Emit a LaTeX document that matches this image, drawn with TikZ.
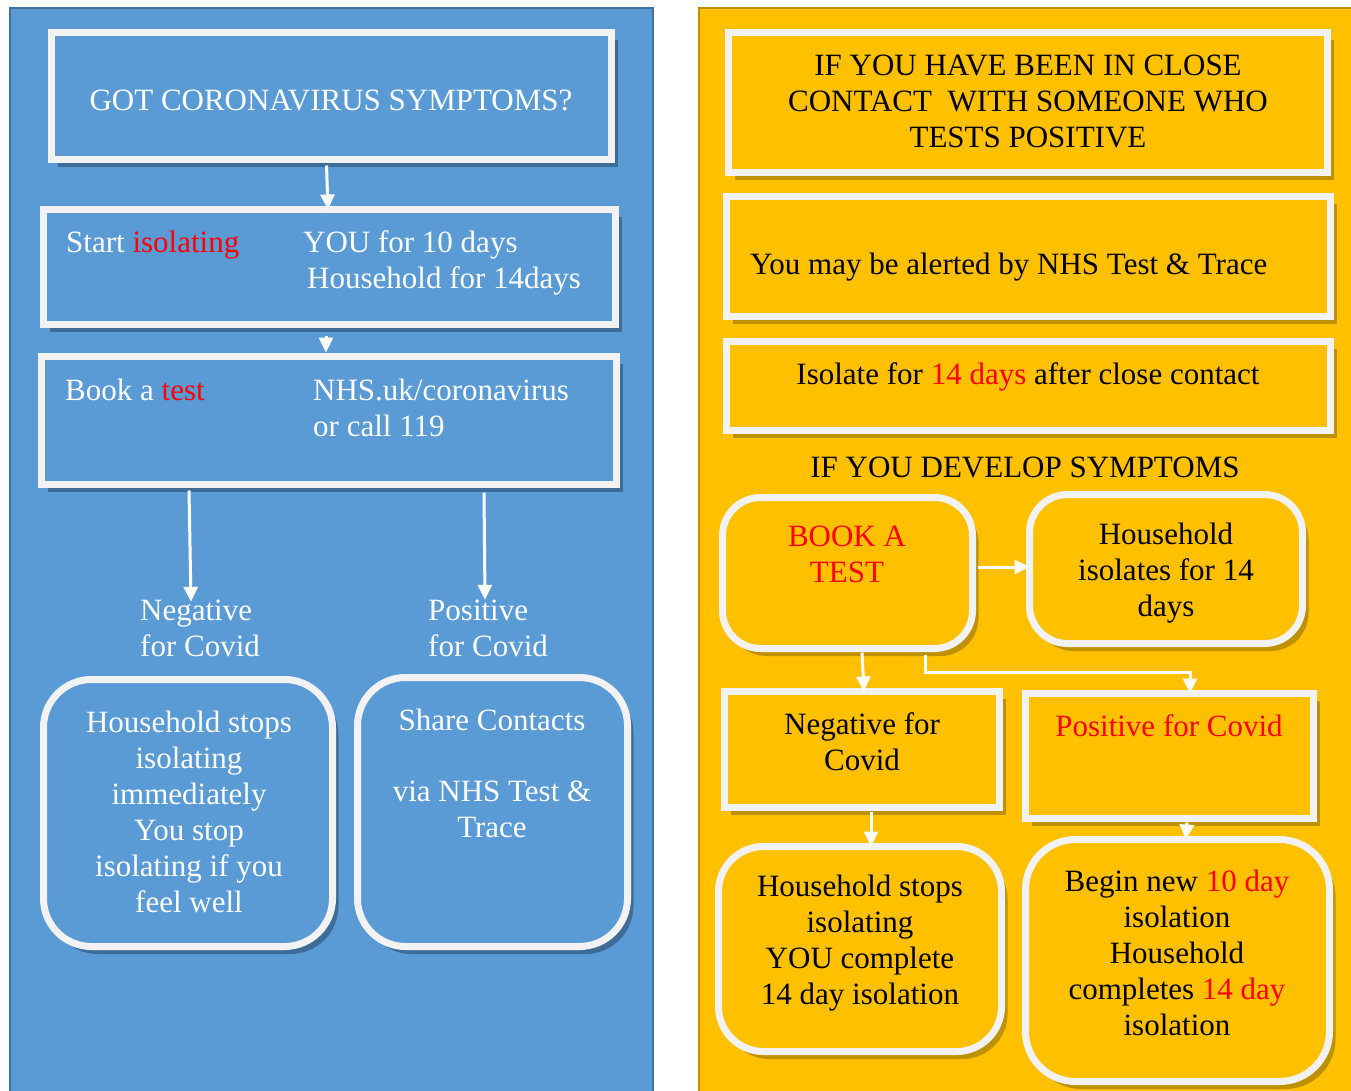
\documentclass[tikz,border=0pt]{standalone}
\usepackage{fontspec}
\setmainfont{Liberation Serif}
\usetikzlibrary{shadows,arrows.meta,calc}
\definecolor{pblue}{HTML}{5B9BD5}
\definecolor{pblueedge}{HTML}{41719C}
\definecolor{pblueshadow}{HTML}{3E6C99}
\definecolor{pyellow}{HTML}{FFC000}
\definecolor{pyellowedge}{HTML}{BF9000}
\definecolor{pyellowshadow}{HTML}{BF9000}
\definecolor{bwhite}{HTML}{F2F2F2}
\definecolor{hred}{HTML}{FF0000}
\newcommand\hl[1]{\textcolor{hred}{#1}}
\newcommand\txtsize{\fontsize{31}{36}\selectfont}
\begin{document}
\begin{tikzpicture}[x=1pt,y=-1pt,
  boxbase/.style={draw=bwhite, line width=7pt, inner sep=0pt, outer sep=0pt},
  bluebox/.style={boxbase, fill=pblue, drop shadow={shadow xshift=6pt, shadow yshift=-7.5pt, fill=pblueshadow, opacity=1}},
  yellowbox/.style={boxbase, fill=pyellow, drop shadow={shadow xshift=6pt, shadow yshift=-7.5pt, fill=pyellowshadow, opacity=1}},
  txt/.style={font=\txtsize, inner sep=0pt, anchor=north},
  wtxt/.style={txt, text=white},
  ktxt/.style={txt, text=black},
  arr/.style={draw=white, line width=3pt, -{Triangle[width=14pt,length=15pt]}},
]
\useasboundingbox (0,0) rectangle (1351,1090);
\fill[white] (0,0) rectangle (1351,1090);
\path[fill=pblue, draw=pblueedge, line width=2pt] (10,8) rectangle (653,1100);
\path[fill=pyellow, draw=pyellowedge, line width=2pt] (699,8) rectangle (1365,1100);

% ---------- left panel boxes ----------
\node[bluebox, minimum width=560pt, minimum height=127pt] (got) at (331.5,96) {};
\node[bluebox, minimum width=572pt, minimum height=115pt] (iso) at (329.5,267) {};
\node[bluebox, minimum width=575pt, minimum height=128pt] (book) at (329,420.5) {};
\node[bluebox, rounded corners=48pt, minimum width=289pt, minimum height=267pt] (negL) at (188,813) {};
\node[bluebox, rounded corners=48pt, minimum width=270pt, minimum height=269pt] (posL) at (492.5,812) {};

\node[wtxt] (tgot) at (331,84.8) {\strut GOT CORONAVIRUS SYMPTOMS?};
\node[wtxt, anchor=north west] (tstart) at (66,226.8) {\strut Start \hl{isolating}};
\node[wtxt, anchor=north west, align=left] (tyou) at (303,226.8) {\strut YOU for 10 days\\\hspace*{4pt}Household for 14days};
\node[wtxt, anchor=north west] (tbook) at (65,374.8) {\strut Book a \hl{test}};
\node[wtxt, anchor=north west, align=left] (tnhs) at (313,374.8) {\strut NHS.uk/coronavirus\\or call 119};
\node[wtxt, anchor=north west, align=left] (negLbl) at (140,594.8) {\strut Negative\\for Covid};
\node[wtxt, anchor=north west, align=left] (posLbl) at (428,594.8) {\strut Positive\\for Covid};
\node[wtxt, align=center] (tnegL) at (189,706.8) {\strut Household stops\\isolating\\immediately\\You stop\\isolating if you\\feel well};
\node[wtxt, align=center] (tposL) at (492,704.8) {\strut Share Contacts\\[35.5pt]via NHS Test \&\\Trace};

\draw[arr] ($([xshift=-5pt]got.south)+(0,6)$) -- ([xshift=-1.5pt]iso.north);
\draw[arr] ($([xshift=-3.5pt]iso.south)+(0,11)$) -- ($([xshift=-3pt]book.north)+(0,-4)$);
\draw[arr] ($(book.south -| 189,0)+(0,6)$) -- ($(negLbl.north -| 191,0)+(0,7)$);
\draw[arr] ($(book.south -| 484,0)+(0,8)$) -- ($(posLbl.north -| 485,0)+(0,5)$);

% ---------- right panel boxes ----------
\node[yellowbox, minimum width=599pt, minimum height=140pt] (r1) at (1028,102.5) {};
\node[yellowbox, minimum width=604pt, minimum height=120pt] (r2) at (1028.5,256.5) {};
\node[yellowbox, minimum width=604pt, minimum height=89pt] (r3) at (1028.5,386) {};
\node[yellowbox, rounded corners=38pt, minimum width=250pt, minimum height=151pt] (bookR) at (847.5,573) {};
\node[yellowbox, rounded corners=38pt, minimum width=273pt, minimum height=149pt] (hh) at (1166,569) {};
\node[yellowbox, minimum width=275pt, minimum height=116pt] (negR) at (862,749.5) {};
\node[yellowbox, minimum width=288pt, minimum height=125pt] (posR) at (1169.5,756) {};
\node[yellowbox, rounded corners=45pt, minimum width=283pt, minimum height=205pt] (stopR) at (860,949) {};
\node[yellowbox, rounded corners=50pt, minimum width=304pt, minimum height=242pt] (newR) at (1177.5,960.5) {};

\node[ktxt, align=center] (tr1) at (1028,49.8) {\strut IF YOU HAVE BEEN IN CLOSE\\CONTACT\ \ WITH SOMEONE WHO\\TESTS POSITIVE};
\node[ktxt, anchor=north west] (tr2) at (750,248.8) {\strut You may be alerted by NHS Test \& Trace};
\node[ktxt] (tr3) at (1028,358.8) {\strut Isolate for \hl{14 days} after close contact};
\node[ktxt] (tdev) at (1025,451.8) {\strut IF YOU DEVELOP SYMPTOMS};
\node[ktxt, align=center, text=hred] (tbookR) at (847,520.8) {\strut BOOK A\\TEST};
\node[ktxt, align=center] (thh) at (1166,518.8) {\strut Household\\isolates for 14\\days};
\node[ktxt, align=center] (tnegR) at (862,708.8) {\strut Negative for\\Covid};
\node[ktxt, text=hred] (tposR) at (1169,710.8) {\strut Positive for Covid};
\node[ktxt, align=center] (tstopR) at (860,870.8) {\strut Household stops\\isolating\\YOU complete\\14 day isolation};
\node[ktxt, align=center] (tnewR) at (1177,865.8) {\strut Begin new \hl{10 day}\\isolation\\Household\\completes \hl{14 day}\\isolation};

\draw[arr] ($(bookR.east |- 0,567)+(5,0)$) -- (hh.west |- 0,567);
\draw[arr] ($(bookR.south -| 862,0)+(0,4)$) -- (negR.north -| 864,0);
\draw[arr] ($(bookR.south -| 925,0)+(0,6)$) |- ($(posR.north -| 1190,0)+(0,-21)$) -- (posR.north -| 1190,0);
\draw[arr] ($(negR.south -| 871,0)+(0,4)$) -- (stopR.north -| 871,0);
\draw[arr] ($(posR.south -| 1187,0)+(0,4)$) -- (newR.north -| 1186,0);
\end{tikzpicture}
\end{document}
